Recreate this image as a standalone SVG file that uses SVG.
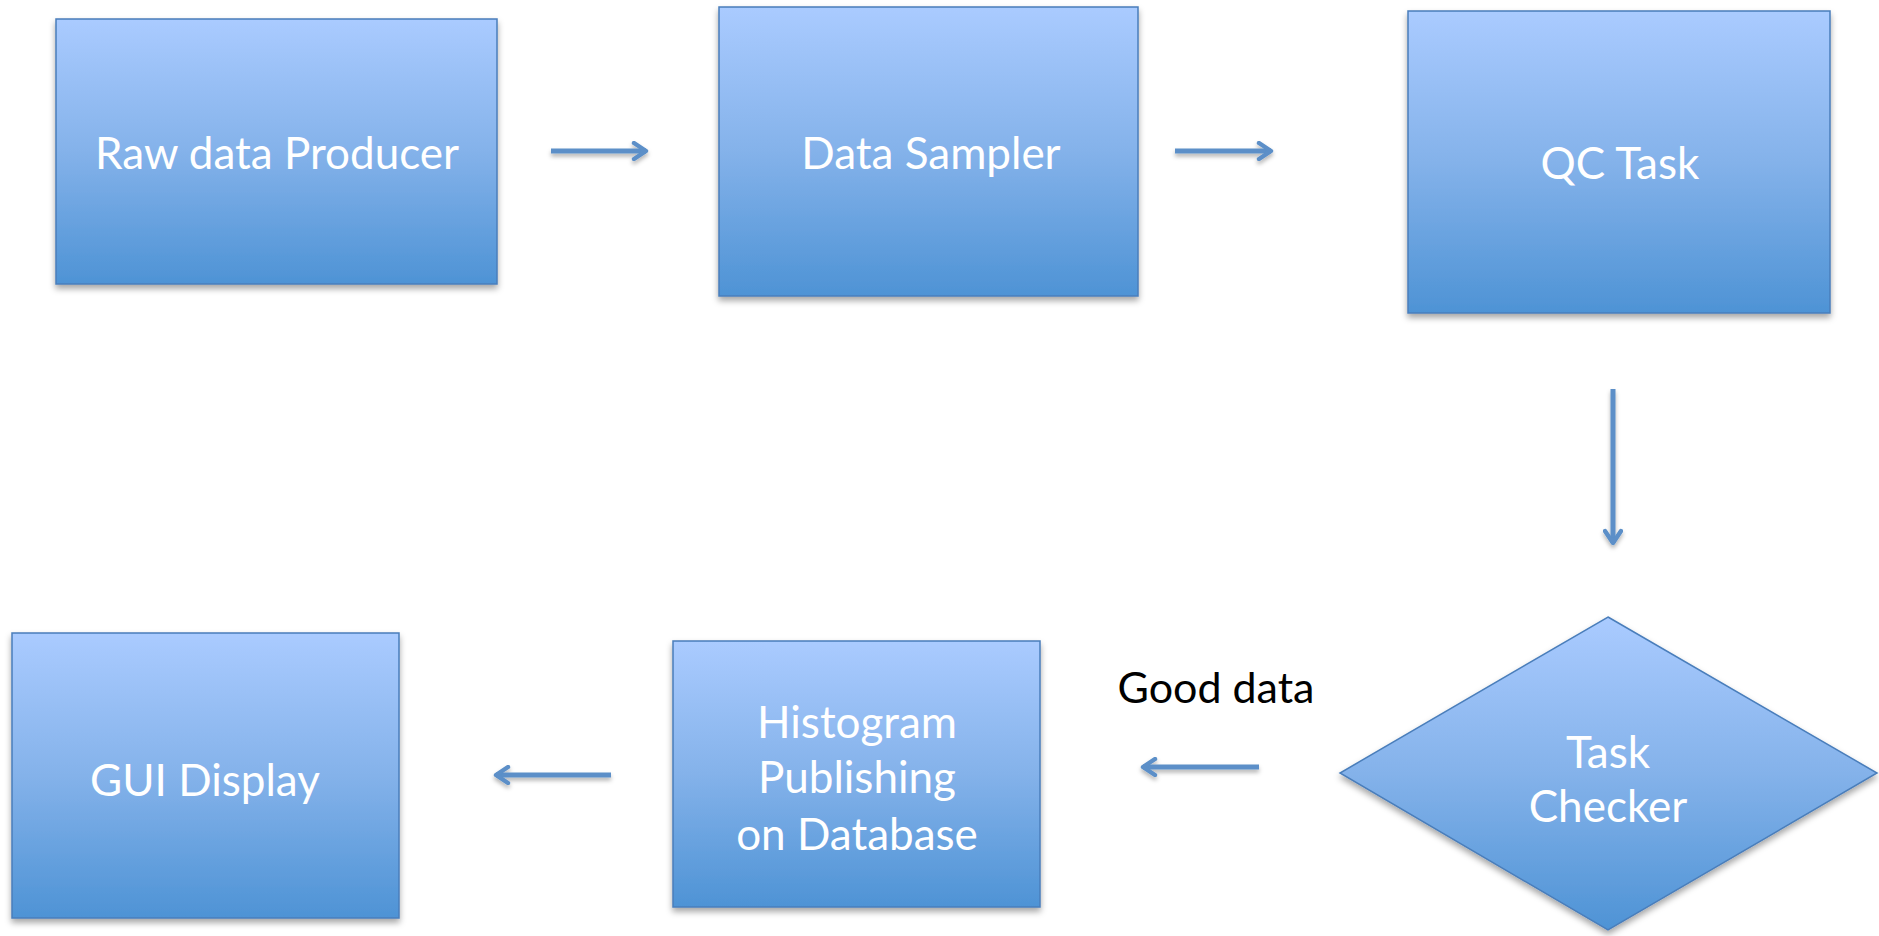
<svg xmlns="http://www.w3.org/2000/svg" width="1879" height="936" viewBox="0 0 1879 936">
<style>
.node{fill:url(#g);stroke:#4a7ebb;stroke-width:1.5;filter:url(#sh)}
.lbl{font-family:Lato,"Open Sans",sans-serif;font-size:44px;fill:#ffffff;text-anchor:middle}
.edge{stroke:#5b8fc8;stroke-width:5;fill:none;marker-end:url(#ah)}
.cap{font-family:Lato,"Open Sans",sans-serif;font-size:43px;fill:#000000;text-anchor:middle}
</style>
<defs>
<linearGradient id="g" x1="0" y1="0" x2="0" y2="1">
<stop offset="0" stop-color="#aacbff"/>
<stop offset="0.5" stop-color="#84b2ea"/>
<stop offset="1" stop-color="#4e93d5"/>
</linearGradient>
<filter id="sh" x="-10%" y="-10%" width="120%" height="125%">
<feDropShadow dx="0" dy="4" stdDeviation="3" flood-color="#000" flood-opacity="0.35"/>
</filter>
<filter id="sh2" filterUnits="userSpaceOnUse" x="0" y="0" width="1879" height="936">
<feDropShadow dx="0" dy="3" stdDeviation="2" flood-color="#000" flood-opacity="0.3"/>
</filter>
<marker id="ah" viewBox="0 0 10 10" refX="8" refY="5" markerWidth="4" markerHeight="4" orient="auto" markerUnits="strokeWidth">
<polyline points="2,1 8,5 2,9" fill="none" stroke="#5b8fc8" stroke-width="2.2" stroke-linecap="round" stroke-linejoin="round"/>
</marker>
</defs>
<rect width="1879" height="936" fill="#ffffff"/>
<g id="connectors">
<g filter="url(#sh2)">
<line class="edge" x1="551" y1="151" x2="646" y2="151"/>
<line class="edge" x1="1175" y1="151" x2="1271" y2="151"/>
<line class="edge" x1="1613" y1="389" x2="1613" y2="543"/>
<line class="edge" x1="1259" y1="767" x2="1143" y2="767"/>
<line class="edge" x1="611" y1="775" x2="496" y2="775"/>
</g>
<text class="cap" x="1216" y="703">Good data</text>
</g>
<g id="raw">
<rect class="node" x="56" y="19" width="441" height="265"/>
<text class="lbl" x="277" y="169">Raw data Producer</text>
</g>
<g id="sampler">
<rect class="node" x="719" y="7" width="419" height="289"/>
<text class="lbl" x="931" y="169">Data Sampler</text>
</g>
<g id="qc">
<rect class="node" x="1408" y="11" width="422" height="302"/>
<text class="lbl" x="1620" y="179">QC Task</text>
</g>
<g id="checker">
<polygon class="node" points="1608,617 1877,773 1608,930 1340,773"/>
<text class="lbl" x="1608" y="768">Task</text>
<text class="lbl" x="1608" y="822">Checker</text>
</g>
<g id="histogram">
<rect class="node" x="673" y="641" width="367" height="266"/>
<text class="lbl" x="857" y="738">Histogram</text>
<text class="lbl" x="857" y="793">Publishing</text>
<text class="lbl" x="857" y="850">on Database</text>
</g>
<g id="gui">
<rect class="node" x="12" y="633" width="387" height="285"/>
<text class="lbl" x="205" y="796">GUI Display</text>
</g>
</svg>
